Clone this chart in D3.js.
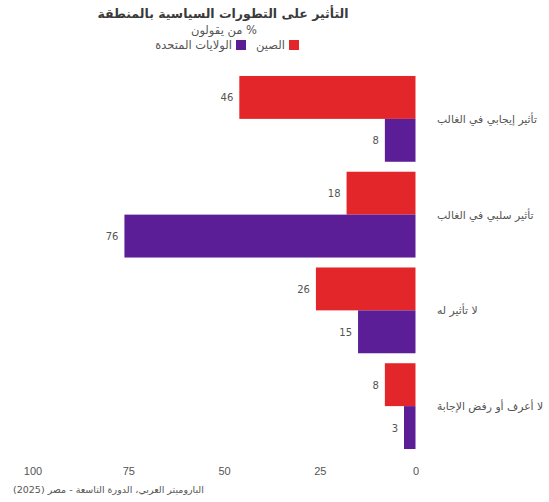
<!DOCTYPE html>
<html lang="ar">
<head>
<meta charset="utf-8">
<script src="https://cdn.jsdelivr.net/npm/d3@7"></script>
<style>
  html, body { margin: 0; padding: 0; background: #fff; }
  svg { display: block; font-family: "DejaVu Sans", sans-serif; }
</style>
</head>
<body>
<svg id="chart" width="549" height="502"></svg>
<script>
// Survey categories (top to bottom) and shares per country
const categories = ["تأثير إيجابي في الغالب", "تأثير سلبي في الغالب", "لا تأثير له", "لا أعرف أو رفض الإجابة"];
const chinaValues = [46, 18, 26, 8];
const usValues = [8, 76, 15, 3];
const seriesNames = ["الصين", "الولايات المتحدة"];
const seriesColors = ["#e3262a", "#5c1e96"];
const tickValues = [0, 25, 50, 75, 100];

const svg = d3.select("#chart");

// Bars grow leftwards from zero at the right edge of the plot
const x = d3.scaleLinear().domain([0, 100]).range([415.5, 32.5]);
const y = d3.scaleBand().domain(categories).range([71, 454]).paddingInner(0.104).paddingOuter(0.052);
const sub = d3.scaleBand().domain([0, 1]).range([0, y.bandwidth()]);

// Title, subtitle and legend
svg.append("text").attr("x", 223).attr("y", 18)
  .attr("text-anchor", "middle").attr("direction", "rtl")
  .attr("font-size", 12.5).attr("font-weight", "bold").attr("fill", "#3a3a3a")
  .text("التأثير على التطورات السياسية بالمنطقة");
svg.append("text").attr("x", 224).attr("y", 34)
  .attr("text-anchor", "middle").attr("direction", "rtl")
  .attr("font-size", 11.5).attr("fill", "#555")
  .text("% من يقولون");

const legendSquares = [289, 236];
seriesNames.forEach((name, i) => {
  svg.append("rect").attr("x", legendSquares[i]).attr("y", 40).attr("width", 10).attr("height", 10)
    .attr("fill", seriesColors[i]);
  svg.append("text").attr("x", legendSquares[i] - 4).attr("y", 49)
    .attr("direction", "rtl").attr("text-anchor", "start")
    .attr("font-size", 11.5).attr("fill", "#555").text(name);
});

// Bars
const rows = categories.map((c, i) => ({ cat: c, vals: [chinaValues[i], usValues[i]] }));
const groups = svg.append("g").selectAll("g").data(rows).join("g")
  .attr("transform", d => `translate(0,${y(d.cat)})`);

groups.selectAll("rect").data(d => d.vals.map((v, j) => ({ v, j }))).join("rect")
  .attr("x", d => x(d.v))
  .attr("y", d => sub(d.j))
  .attr("width", d => x(0) - x(d.v))
  .attr("height", sub.bandwidth())
  .attr("fill", d => seriesColors[d.j]);

groups.selectAll("text.val").data(d => d.vals.map((v, j) => ({ v, j }))).join("text")
  .attr("class", "val")
  .attr("x", d => x(d.v) - 6)
  .attr("y", d => sub(d.j) + sub.bandwidth() / 2 + 4)
  .attr("text-anchor", "end")
  .attr("font-size", 10).attr("fill", "#555")
  .text(d => d.v);

// Category labels on the right
svg.append("g").selectAll("text").data(categories).join("text")
  .attr("x", 437)
  .attr("y", d => y(d) + y.bandwidth() / 2 + 4)
  .attr("direction", "rtl").attr("text-anchor", "end")
  .attr("font-size", 10.8).attr("fill", "#555")
  .text(d => d);

// Value axis along the bottom
const axis = svg.append("g").attr("transform", "translate(0,457)")
  .call(d3.axisBottom(x).tickValues(tickValues).tickSize(0).tickPadding(10).tickFormat(d3.format("d")));
axis.select(".domain").remove();
axis.selectAll("text").attr("font-size", 11).attr("fill", "#555").attr("font-family", null);

// Source note
svg.append("text").attr("x", 13).attr("y", 493)
  .attr("direction", "rtl").attr("text-anchor", "end")
  .attr("font-size", 9.5).attr("fill", "#555")
  .text("الباروميتر العربي، الدورة التاسعة - مصر (2025)");
</script>
</body>
</html>
